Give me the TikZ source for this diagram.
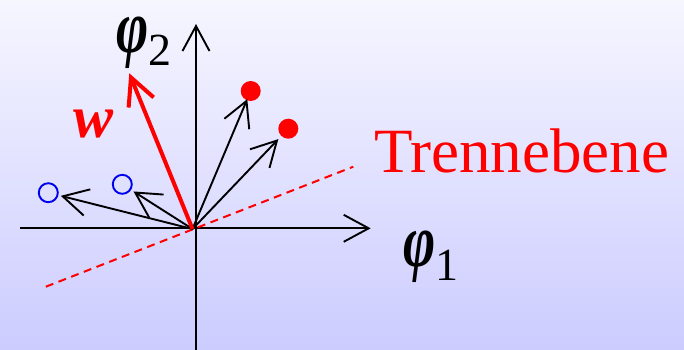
\documentclass[tikz,border=0pt]{standalone}
\usepackage{fontspec}
\setmainfont{Liberation Serif}
\usetikzlibrary{arrows.meta}
\definecolor{bgtop}{RGB}{246,246,255}
\definecolor{bgbot}{RGB}{204,204,255}
\definecolor{pred}{RGB}{255,0,0}
\definecolor{pblue}{RGB}{0,0,240}
\tikzset{
  barb/.style={-{Straight Barb[length=25pt,width=27pt]}},
  axisline/.style={draw=black,line width=1.9pt,barb},
  vecline/.style={draw=black,line width=1.9pt,barb},
  wvec/.style={draw=pred,line width=4pt,-{Straight Barb[length=27pt,width=27pt]}},
  sepline/.style={draw=pred,line width=2pt,dash pattern=on 8pt off 5.6pt},
  opendot/.style={circle,draw=pblue,line width=1.9pt,minimum size=19pt,inner sep=0pt,outer sep=0pt},
  filldot/.style={circle,fill=pred,minimum size=20pt,inner sep=0pt,outer sep=0pt},
  lbl/.style={inner sep=0pt,anchor=base west},
}
\newcommand{\phisym}{\scalebox{0.95}[1.3]{\fontsize{58}{58}\selectfont\bfseries\itshape φ}}
\begin{document}
\begin{tikzpicture}[x=1pt,y=-1pt]
\shade[top color=bgtop,bottom color=bgbot] (0,0) rectangle (684,349);
\useasboundingbox (0,0) rectangle (684,349);
% axes
\coordinate (xl) at (20,228.3);
\coordinate (xr) at (370.7,228.3);
\coordinate (yb) at (196,352);
\coordinate (yt) at (196,24);
\draw[axisline] (xl) -- (xr);
\draw[axisline] (yb) -- (yt);
% separating line
\coordinate (s1) at (45.8,286.7);
\coordinate (s2) at (353.3,166.7);
\draw[sepline] (s1) -- (s2);
% origin
\coordinate (O) at (192.5,229);
% points
\node[opendot] (b1) at (48.3,192.7) {};
\node[opendot] (b2) at (122.3,184.3) {};
\node[filldot] (r1) at (250.7,91) {};
\node[filldot] (r2) at (288.3,128.7) {};
\draw[vecline,shorten >=3.4pt] (O) -- (b1);
\draw[vecline,shorten >=3.8pt] (O) -- (b2);
\draw[vecline,shorten >=-1.2pt] (O) -- (r1);
\draw[vecline,shorten >=4.4pt] (O) -- (r2);
% w
\coordinate (wt) at (129.3,73.3);
\draw[wvec] (O) -- (wt);
% labels
\node[lbl,text=pred] (wl) at (73,137) {\fontsize{60}{60}\selectfont\bfseries\itshape w};
\node[lbl,text=pred] (tl) at (374,172) {\fontsize{63}{63}\selectfont Trennebene};
\node[lbl] (p2) at (116,52) {\phisym\raisebox{-13pt}{\fontsize{46}{46}\selectfont 2}};
\node[lbl] (p1) at (403,266) {\phisym\raisebox{-14pt}{\fontsize{46}{46}\selectfont 1}};
\end{tikzpicture}
\end{document}
